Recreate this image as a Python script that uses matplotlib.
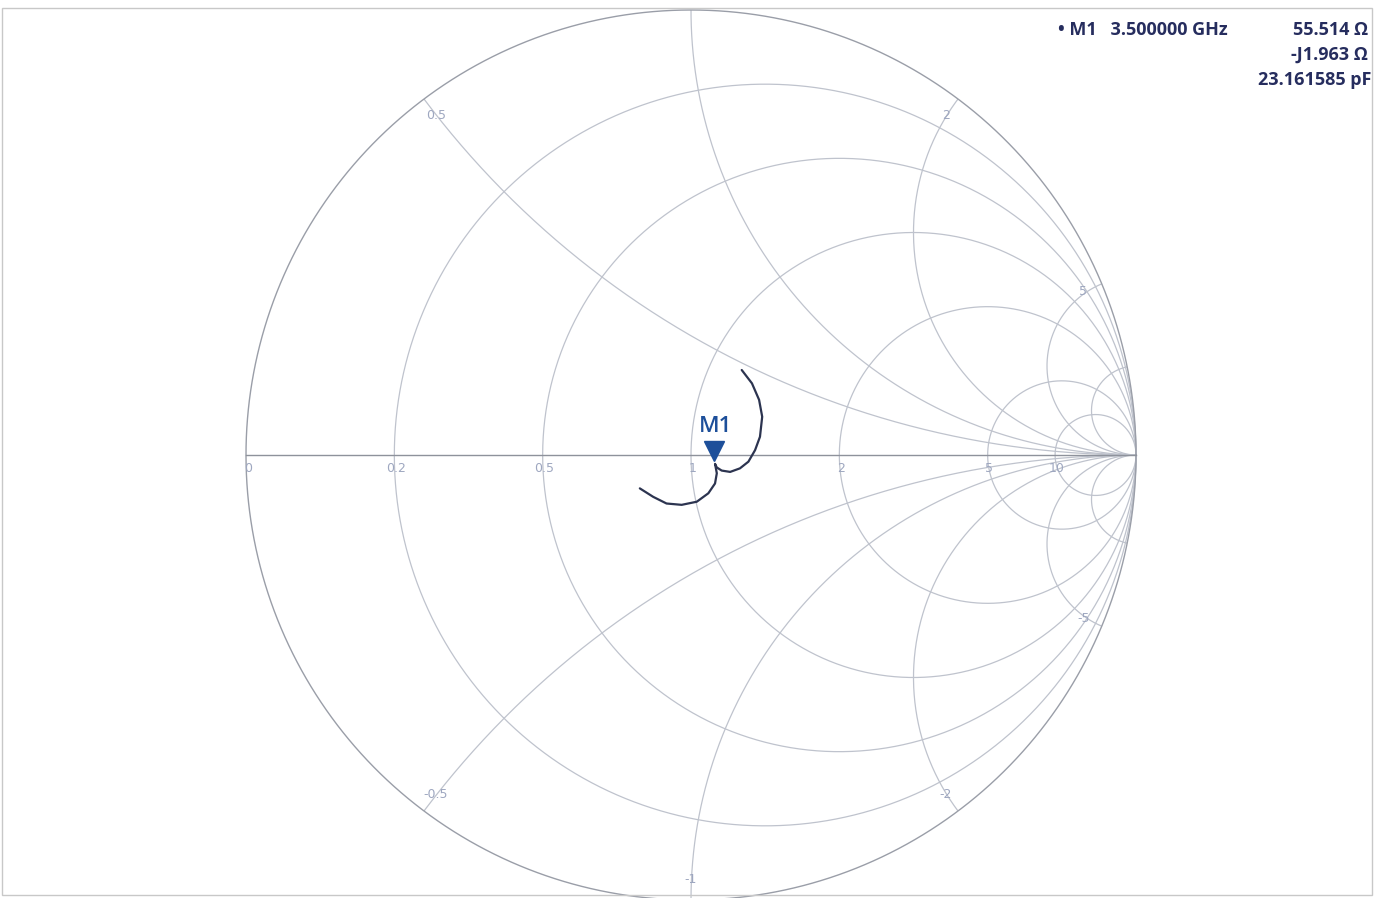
import numpy as np
import matplotlib
matplotlib.use('Agg')
import matplotlib.pyplot as plt
from matplotlib.patches import Circle, Rectangle

# grid values of the Smith chart
r_vals = [0.2, 0.5, 1, 2, 5, 10]
x_vals = [0.5, 1, 2, 5, 10]
r_labels = ['0', '0.2', '0.5', '1', '2', '5', '10']
r_label_vals = [0, 0.2, 0.5, 1, 2, 5, 10]
x_label_vals = [0.5, 2, 5, -0.5, -1, -2, -5]
x_labels = ['0.5', '2', '5', '-0.5', '-1', '-2', '-5']

trace_re = [0.114, 0.137, 0.153, 0.160, 0.155, 0.144, 0.129, 0.110, 0.088, 0.069,
            0.058, 0.054, 0.058, 0.054, 0.039, 0.013, -0.021, -0.055, -0.085, -0.115]
trace_im = [0.191, 0.161, 0.124, 0.086, 0.041, 0.011, -0.015, -0.030, -0.038, -0.035,
            -0.028, -0.020, -0.041, -0.064, -0.086, -0.105, -0.112, -0.109, -0.094, -0.075]

# marker readout
z0 = 50.0
m1_r = 55.514
m1_x = -1.963
m1_freq = '3.500000 GHz'
m1_cap = '23.161585 pF'

W, H = 1382, 898
cx, cy, R = 691, 455, 445

fig = plt.figure(figsize=(W / 100, H / 100), dpi=100)
ax = fig.add_axes([0, 0, 1, 1])
ax.set_xlim(-cx / R, (W - cx) / R)
ax.set_ylim((cy - H) / R, cy / R)
ax.axis('off')

grid_c = '#bfc3cd'
clip = Circle((0, 0), 1, transform=ax.transData, fill=False, lw=0)
ax.add_patch(clip)

t = np.linspace(0, 2 * np.pi, 1500)
# resistance circles
for r in r_vals:
    c = r / (1 + r)
    rad = 1 / (1 + r)
    ax.plot(c + rad * np.cos(t), rad * np.sin(t), color=grid_c, lw=0.9)
# reactance arcs
for x in x_vals:
    for s in (1, -1):
        rad = 1 / x
        ln, = ax.plot(1 + rad * np.cos(t), s * rad + rad * np.sin(t), color=grid_c, lw=0.9)
        ln.set_clip_path(clip)

# outer circle and real axis
ax.plot(np.cos(t), np.sin(t), color='#9a9ea8', lw=1.0)
ax.plot([-1, 1], [0, 0], color='#8e929b', lw=1.0)

lab_c = '#9ea7c0'
for v, s in zip(r_label_vals, r_labels):
    g = (v - 1) / (v + 1)
    ax.text(g + 0.004, -0.015, s, color=lab_c, fontsize=9, ha='center', va='top')
for v, s in zip(x_label_vals, x_labels):
    z = complex(0, v)
    g = (z - 1) / (z + 1) * 0.955
    ax.text(g.real, g.imag, s, color=lab_c, fontsize=9, ha='center', va='center')

# trace
ax.plot(trace_re, trace_im, color='#2c3450', lw=1.6, solid_capstyle='round')

# marker M1
zm = complex(m1_r, m1_x) / z0
gm = (zm - 1) / (zm + 1)
ax.plot(gm.real, gm.imag + 0.027, marker='v', markersize=14, color='#1d4f9a', mec='#1d4f9a')
ax.text(gm.real + 0.003, gm.imag + 0.058, 'M1', color='#1d4f9a', fontsize=16,
        ha='center', va='bottom', family='Open Sans', fontweight='semibold')

# readout
txt_c = '#262d5e'
kw = dict(color=txt_c, fontsize=13, va='center', family='Open Sans', fontweight='bold')
fig.text(1058 / W, 1 - 30 / H, '\u2022 M1   ' + m1_freq, ha='left', **kw)
fig.text(1368 / W, 1 - 30 / H, f'{m1_r:.3f} \u03a9', ha='right', **kw)
fig.text(1368 / W, 1 - 55 / H, f'-J{abs(m1_x):.3f} \u03a9', ha='right', **kw)
fig.text(1371 / W, 1 - 80 / H, m1_cap, ha='right', **kw)

# faint frame
fig.patches.append(Rectangle((2 / W, 3 / H), 1370 / W, 887 / H, transform=fig.transFigure,
                             fill=False, ec='#c8c8c8', lw=1.0))

fig.savefig('out.png', dpi=100, facecolor='white')
